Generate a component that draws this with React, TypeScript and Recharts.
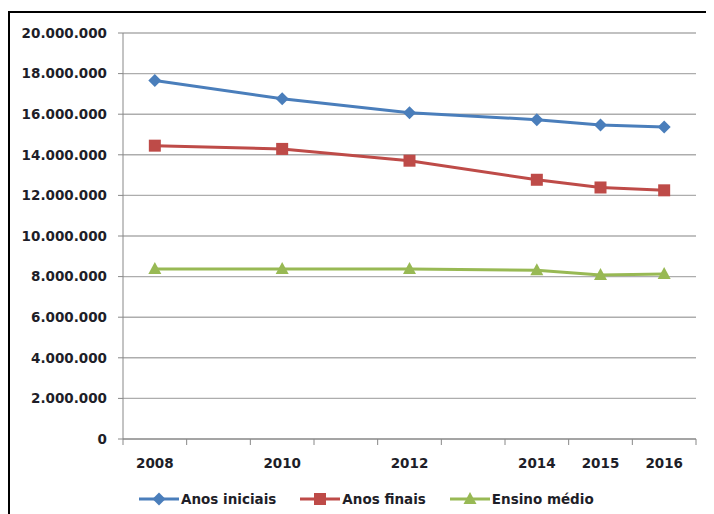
import { LineChart, Line, XAxis, YAxis, CartesianGrid, Legend } from "recharts";

const years = [2008, 2010, 2012, 2014, 2015, 2016];
const anosIniciais = [17660000, 16760000, 16070000, 15730000, 15470000, 15370000];
const anosFinais = [14450000, 14290000, 13710000, 12770000, 12390000, 12250000];
const ensinoMedio = [8370000, 8370000, 8380000, 8310000, 8080000, 8130000];
const yTicks = [0, 2000000, 4000000, 6000000, 8000000, 10000000, 12000000, 14000000, 16000000, 18000000, 20000000];

const series = [
  { key: "iniciais", name: "Anos iniciais", color: "#4a7ebb", shape: "diamond" },
  { key: "finais", name: "Anos finais", color: "#be4b48", shape: "square" },
  { key: "medio", name: "Ensino médio", color: "#98b954", shape: "triangle" },
];

const data = years.map((year, i) => ({
  year,
  iniciais: anosIniciais[i],
  finais: anosFinais[i],
  medio: ensinoMedio[i],
}));

// excel date axis: one slot per year, tick marks between slots
const firstYear = years[0];
const lastYear = years[years.length - 1];
const xTicks: number[] = [];
for (let y = firstYear - 0.5; y <= lastYear + 0.5; y += 1) {
  xTicks.push(y);
  if (years.includes(y + 0.5)) xTicks.push(y + 0.5);
}

const FONT = "'DejaVu Sans', sans-serif";
const TEXT = "#1e1e28";

const fmt = (v: number) => String(v).replace(/\B(?=(\d{3})+(?!\d))/g, ".");

const Marker = ({ cx, cy, shape, color }: any) => {
  if (shape === "diamond")
    return <polygon points={`${cx},${cy - 6.5} ${cx + 6.5},${cy} ${cx},${cy + 6.5} ${cx - 6.5},${cy}`} fill={color} />;
  if (shape === "square") return <rect x={cx - 6} y={cy - 6} width={12} height={12} fill={color} />;
  return <polygon points={`${cx},${cy - 7} ${cx + 6.5},${cy + 5} ${cx - 6.5},${cy + 5}`} fill={color} />;
};

const XTick = ({ x, y, payload }: any) => {
  const v = payload.value;
  if (years.includes(v)) {
    return (
      <text x={x} y={y + 29} textAnchor="middle" fontFamily={FONT} fontWeight="bold" fontSize={13.5} fill={TEXT}>
        {v}
      </text>
    );
  }
  return <line x1={x} x2={x} y1={y} y2={y + 6} stroke="#888" />;
};

const renderLegend = () => (
  <div style={{ display: "flex", alignItems: "center", height: 22, fontFamily: FONT, fontWeight: "bold", fontSize: 13.5, color: TEXT }}>
    {series.map((s) => (
      <div key={s.key} style={{ display: "flex", alignItems: "center", marginRight: 24 }}>
        <svg width={40} height={16} style={{ marginRight: 2 }}>
          <line x1={0} x2={40} y1={8} y2={8} stroke={s.color} strokeWidth={3} />
          <Marker cx={20} cy={8} shape={s.shape} color={s.color} />
        </svg>
        <span>{s.name}</span>
      </div>
    ))}
  </div>
);

export default function App() {
  return (
    <div style={{ position: "relative", width: 714, height: 514, margin: "-8px 0 0 -8px", overflow: "hidden", background: "#fff" }}>
      <div style={{ position: "absolute", left: 8, top: 11, width: 760, height: 560, border: "2px solid #000" }} />
      <div style={{ position: "absolute", left: 0, top: 0 }}>
        <LineChart width={714} height={514} data={data} margin={{ top: 33, right: 18, left: 0, bottom: 4 }}>
          <CartesianGrid vertical={false} stroke="#adadad" strokeWidth={1.4} />
          <XAxis
            dataKey="year"
            type="number"
            domain={[firstYear - 0.5, lastYear + 0.5]}
            ticks={xTicks}
            interval={0}
            tick={<XTick />}
            tickLine={false}
            tickSize={0}
            tickMargin={0}
            height={49}
            stroke="#888"
          />
          <YAxis
            domain={[0, 20000000]}
            ticks={yTicks}
            interval={0}
            width={123}
            tickFormatter={fmt}
            tickSize={5}
            tickMargin={11}
            stroke="#888"
            tick={{ fontFamily: FONT, fontWeight: "bold", fontSize: 13.5, fill: TEXT }}
          />
          <Legend content={renderLegend} verticalAlign="bottom" wrapperStyle={{ left: 139, width: "auto" }} />
          {series.map((s) => (
            <Line
              key={s.key}
              dataKey={s.key}
              name={s.name}
              stroke={s.color}
              strokeWidth={3}
              isAnimationActive={false}
              dot={(p: any) => <Marker key={p.index} cx={p.cx} cy={p.cy} shape={s.shape} color={s.color} />}
              activeDot={false}
            />
          ))}
        </LineChart>
      </div>
    </div>
  );
}
